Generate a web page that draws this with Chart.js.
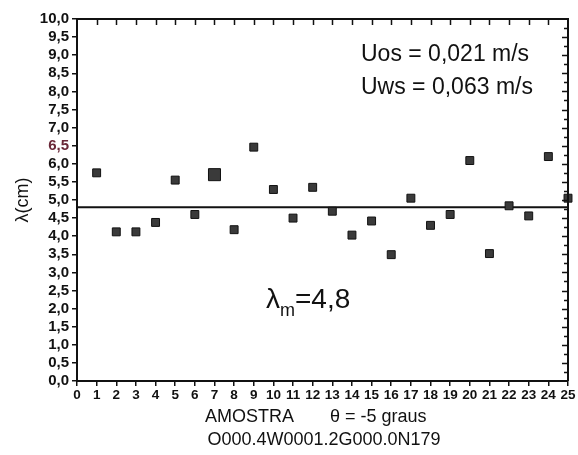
<!DOCTYPE html>
<html>
<head>
<meta charset="utf-8">
<script src="https://cdn.jsdelivr.net/npm/chart.js@4/dist/chart.umd.min.js"></script>
<style>
  html, body { margin: 0; padding: 0; background: #fff; }
  #c { display: block; }
</style>
</head>
<body>
<canvas id="c" width="578" height="455"></canvas>
<script>
// Sample number (AMOSTRA) and measured wavelength lambda (cm)
const samples = [1, 2, 3, 4, 5, 6, 7, 8, 9, 10, 11, 12, 13, 14, 15, 16, 17, 18, 19, 20, 21, 22, 23, 24, 25];
const lambdaCm = [5.75, 4.12, 4.12, 4.38, 5.55, 4.6, 5.7, 4.18, 6.46, 5.29, 4.5, 5.35, 4.69, 4.03, 4.42, 3.49, 5.05, 4.3, 4.6, 6.09, 3.52, 4.84, 4.56, 6.2, 5.05];
const lambdaMean = 4.8;
const meanSpan = [0, 25];

// Axis ranges / tick steps
const xRange = [0, 25];
const yRange = [0, 10];
const xStep = 1;
const yStep = 0.5;
const yMinorStep = 0.25;

// Annotation texts
const velocityLines = ['Uos = 0,021 m/s', 'Uws = 0,063 m/s'];
const xTitle = 'AMOSTRA';
const angleText = '\u03b8 = -5 graus';
const runCode = 'O000.4W0001.2G000.0N179';
const yTitle = '\u03bb(cm)';
const meanLabel = { symbol: '\u03bb', sub: 'm', value: '=4,8' };

const FONT = "'Liberation Sans', Arial, sans-serif";
const INK = '#111';

const frameAndText = {
  id: 'frameAndText',
  afterDraw(chart) {
    const { ctx, chartArea: a, scales: { x, y } } = chart;
    ctx.save();
    ctx.strokeStyle = INK;
    // top and right frame lines
    ctx.lineWidth = 2;
    ctx.beginPath();
    ctx.moveTo(a.left, a.top);
    ctx.lineTo(a.right, a.top);
    ctx.lineTo(a.right, a.bottom);
    ctx.stroke();
    // inward ticks on the top edge
    ctx.lineWidth = 1.5;
    ctx.beginPath();
    for (let v = xRange[0] + xStep; v < xRange[1]; v += xStep) {
      const px = Math.round(x.getPixelForValue(v)) + 0.5;
      ctx.moveTo(px, a.top);
      ctx.lineTo(px, a.top + 6);
    }
    // inward ticks on the right edge
    for (let v = yRange[0] + yMinorStep; v < yRange[1] - 1e-9; v += yMinorStep) {
      const py = Math.round(y.getPixelForValue(v)) + 0.5;
      const major = Math.abs(v / yStep - Math.round(v / yStep)) < 1e-6;
      ctx.moveTo(a.right, py);
      ctx.lineTo(a.right - (major ? 6 : 4), py);
    }
    ctx.stroke();

    ctx.fillStyle = INK;
    ctx.textBaseline = 'alphabetic';
    // velocity box text
    ctx.font = `23px ${FONT}`;
    ctx.textAlign = 'left';
    ctx.fillText(velocityLines[0], 361, 61);
    ctx.fillText(velocityLines[1], 361, 94);

    // mean wavelength label
    ctx.font = `28px ${FONT}`;
    ctx.fillText(meanLabel.symbol, 266, 308);
    const w1 = ctx.measureText(meanLabel.symbol).width;
    ctx.font = `18px ${FONT}`;
    ctx.fillText(meanLabel.sub, 266 + w1, 316);
    const w2 = ctx.measureText(meanLabel.sub).width;
    ctx.font = `28px ${FONT}`;
    ctx.fillText(meanLabel.value, 266 + w1 + w2, 308);

    // x axis titles
    ctx.font = `18px ${FONT}`;
    ctx.fillText(xTitle, 205, 422);
    ctx.fillText(angleText, 330, 422);
    ctx.textAlign = 'center';
    ctx.fillText(runCode, 324, 445);

    // y axis title
    ctx.translate(28, 200);
    ctx.rotate(-Math.PI / 2);
    ctx.font = `18px ${FONT}`;
    ctx.fillText(yTitle, 0, 0);
    ctx.restore();
  }
};

const fmtComma = v => v.toFixed(1).replace('.', ',');

new Chart(document.getElementById('c'), {
  type: 'scatter',
  data: {
    datasets: [
      {
        label: 'lambda',
        data: samples.map((s, i) => ({ x: s, y: lambdaCm[i] })),
        pointStyle: 'rect',
        pointRadius: ctx => (ctx.dataIndex === 6 ? 8.5 : 5.6),
        pointBackgroundColor: '#3a3a3a',
        pointBorderColor: '#111',
        pointBorderWidth: 1,
        showLine: false,
        clip: false,
        order: 1
      },
      {
        label: 'mean',
        data: meanSpan.map(v => ({ x: v, y: lambdaMean })),
        showLine: true,
        borderColor: INK,
        borderWidth: 2,
        pointRadius: 0,
        order: 2
      }
    ]
  },
  options: {
    responsive: false,
    animation: false,
    devicePixelRatio: 1,
    layout: { padding: { top: 19, right: 10, left: 0, bottom: 0 }, autoPadding: false },
    plugins: { legend: { display: false }, tooltip: { enabled: false } },
    scales: {
      x: {
        type: 'linear',
        min: xRange[0], max: xRange[1],
        afterFit: s => { s.height = 74; },
        ticks: { stepSize: xStep, color: INK, font: { family: FONT, size: 13.5, weight: 'bold' }, padding: 1, maxRotation: 0, autoSkip: false },
        grid: { drawOnChartArea: false, drawTicks: true, tickLength: 5, color: INK, lineWidth: 1.5 },
        border: { color: INK, width: 2 }
      },
      y: {
        min: yRange[0], max: yRange[1],
        afterFit: s => { s.width = 77; },
        ticks: {
          stepSize: yStep, autoSkip: false,
          color: c => (Math.abs(c.tick.value - 6.5) < 1e-6 ? '#6a2838' : INK),
          font: { family: FONT, size: 15, weight: 'bold' }, padding: 3,
          callback: v => fmtComma(v)
        },
        grid: { drawOnChartArea: false, drawTicks: true, tickLength: 5, color: INK, lineWidth: 1.5 },
        border: { color: INK, width: 2 }
      }
    }
  },
  plugins: [frameAndText]
});
</script>
</body>
</html>
